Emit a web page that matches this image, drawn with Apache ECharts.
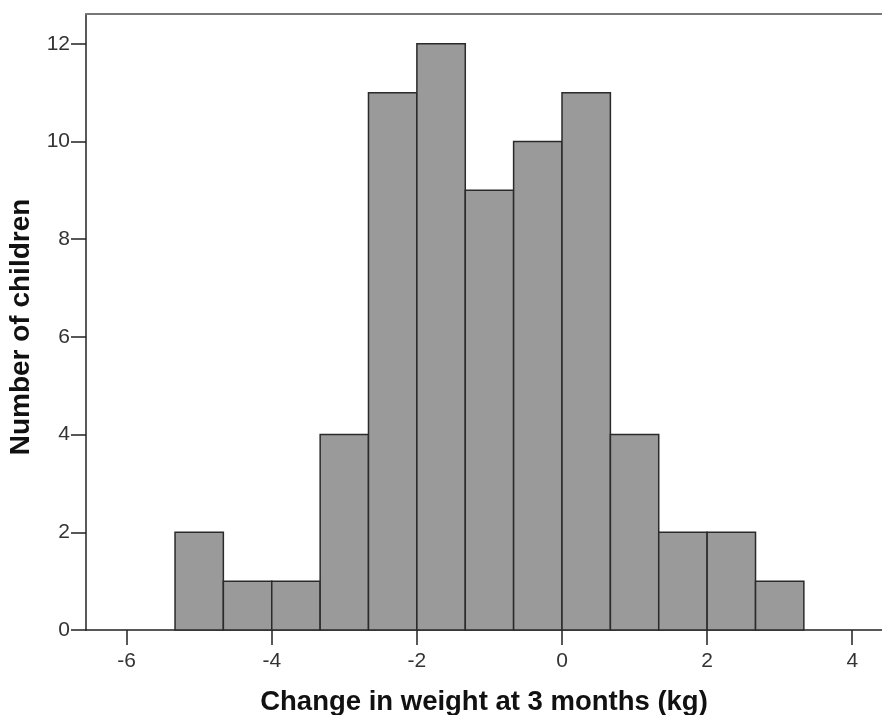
<!DOCTYPE html>
<html>
<head>
<meta charset="utf-8">
<script src="https://cdn.jsdelivr.net/npm/echarts@6/dist/echarts.min.js"></script>
<style>
  html, body { margin: 0; padding: 0; background: #ffffff; }
  #chart { width: 882px; height: 715px; }
</style>
</head>
<body>
<div id="chart"></div>
<script>
// Histogram bins: edges (kg) and number of children per bin
var binEdges = [-5.333, -4.667, -4.0, -3.333, -2.667, -2.0, -1.333, -0.667, 0.0, 0.667, 1.333, 2.0, 2.667, 3.333];
var counts = [2, 1, 1, 4, 11, 12, 9, 10, 11, 4, 2, 2, 1];
var xTicks = [-6, -4, -2, 0, 2, 4];
var yTicks = [0, 2, 4, 6, 8, 10, 12];

var bins = counts.map(function (c, i) {
  return [binEdges[i], binEdges[i + 1], c];
});

var font = '"Liberation Sans", Arial, sans-serif';

var chart = echarts.init(document.getElementById('chart'), null, { renderer: 'canvas' });
chart.setOption({
  animation: false,
  backgroundColor: '#ffffff',
  grid: { left: 86, right: 0, top: 14, bottom: 85, containLabel: false, outerBoundsMode: 'none' },
  xAxis: [{
    type: 'value',
    min: -6.56,
    max: 4.41,
    name: 'Change in weight at 3 months (kg)',
    nameLocation: 'middle',
    nameGap: 58,
    nameTextStyle: { fontFamily: font, fontWeight: 'bold', fontSize: 27.5, color: '#111111' },
    axisLine: { show: true, onZero: false, lineStyle: { color: '#222222', width: 1.5 } },
    axisTick: { show: true, length: 15, customValues: xTicks, lineStyle: { color: '#222222', width: 1.5 } },
    axisLabel: { customValues: xTicks, margin: 21, fontFamily: font, fontSize: 21, color: '#333333' },
    splitLine: { show: false }
  }, {
    type: 'value',
    position: 'top',
    min: -6.56,
    max: 4.41,
    axisLine: { show: true, onZero: false, lineStyle: { color: '#777777', width: 2 } },
    axisTick: { show: false },
    axisLabel: { show: false },
    splitLine: { show: false }
  }],
  yAxis: {
    type: 'value',
    min: 0,
    max: 12.61,
    name: 'Number of children',
    nameLocation: 'middle',
    nameGap: 41,
    nameTextStyle: { fontFamily: font, fontWeight: 'bold', fontSize: 28, color: '#111111', padding: [0, 10, 0, 0] },
    axisLine: { show: true, onZero: false, lineStyle: { color: '#222222', width: 1.5 } },
    axisTick: { show: true, length: 15, customValues: yTicks, lineStyle: { color: '#222222', width: 1.5 } },
    axisLabel: { customValues: yTicks, margin: 16, fontFamily: font, fontSize: 21, color: '#333333' },
    splitLine: { show: false }
  },
  series: [{
    type: 'custom',
    xAxisIndex: 0,
    data: bins,
    renderItem: function (params, api) {
      var p0 = api.coord([api.value(0), api.value(2)]);
      var p1 = api.coord([api.value(1), 0]);
      return {
        type: 'rect',
        shape: { x: p0[0], y: p0[1], width: p1[0] - p0[0], height: p1[1] - p0[1] },
        style: { fill: '#9a9a9a', stroke: '#2a2a2a', lineWidth: 1.5 }
      };
    }
  }]
});
</script>
</body>
</html>
